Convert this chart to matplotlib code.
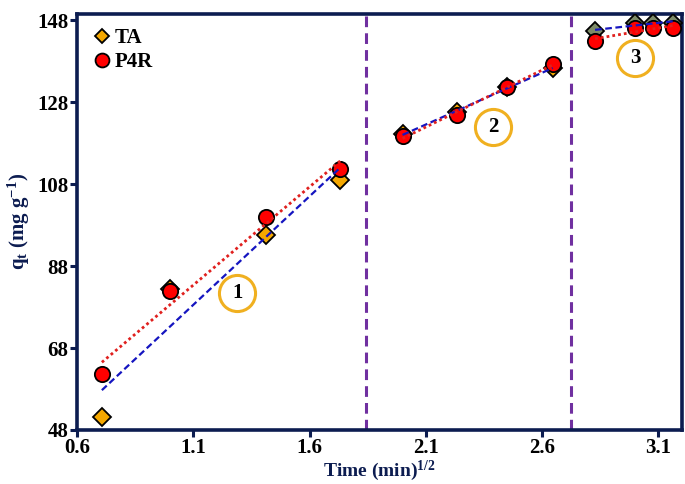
import numpy as np
import matplotlib
matplotlib.use("Agg")
import matplotlib.pyplot as plt

plt.rcParams['font.family'] = ['Liberation Serif', 'DejaVu Serif']
plt.rcParams['font.weight'] = 'bold'
plt.rcParams['mathtext.fontset'] = 'custom'
plt.rcParams['mathtext.rm'] = 'Liberation Serif:bold'
plt.rcParams['mathtext.bf'] = 'Liberation Serif:bold'
plt.rcParams['mathtext.it'] = 'Liberation Serif:bold'

# data, x = time^(1/2)
x1 = [0.707, 1.0, 1.414, 1.732]
ta1 = [51.1, 82.3, 95.6, 109.1]
p4r1 = [61.7, 81.8, 100.0, 111.6]

x2 = [2.0, 2.236, 2.449, 2.646]
ta2 = [120.2, 125.5, 131.6, 136.3]
p4r2 = [119.7, 124.8, 131.6, 137.4]

x3 = [2.828, 3.0, 3.077, 3.162]
ta3 = [145.3, 147.3, 147.3, 147.3]
p4r3 = [143.0, 146.0, 146.0, 146.1]

breaks = [1.842, 2.725]
region_labels = ['1', '2', '3']
label_pos = [(1.29, 81.4), (2.39, 121.9), (3.0, 138.7)]

navy = '#0c1c50'
orange = '#f5a800'
ta_cols = [orange, orange, '#7d8b68']

fig = plt.figure(figsize=(6.85, 4.84), dpi=100)
ax = fig.add_axes([0.1124, 0.1116, 0.8826, 0.8604])

segs = [(x1, ta1, p4r1), (x2, ta2, p4r2), (x3, ta3, p4r3)]
for i, (xs, ta, pr) in enumerate(segs):
    ax.plot(xs, ta, 'D', color=ta_cols[i], mec='black', mew=1.3, ms=9, ls='none', zorder=3)
    ax.plot(xs, pr, 'o', color='#ff0000', mec='black', mew=1.3, ms=11, ls='none', zorder=4)
    xs_a = np.array(xs)
    k, b = np.polyfit(xs_a, ta, 1)
    ax.plot(xs_a[[0, -1]], k * xs_a[[0, -1]] + b, color='#1515c0', ls=(0, (3, 1.6)), lw=1.6, zorder=5)
    k, b = np.polyfit(xs_a, pr, 1)
    ax.plot(xs_a[[0, -1]], k * xs_a[[0, -1]] + b, color='#e0201e', ls=(0, (1, 1.1)), lw=2.0, zorder=5)

for xb in breaks:
    ax.axvline(xb, color='#7030a0', ls=(0, (3.5, 2)), lw=2.2, zorder=2)

for lab, (lx, ly) in zip(region_labels, label_pos):
    ax.plot(lx, ly, 'o', ms=26, mfc='none', mec='#f0b020', mew=2.2, zorder=6)
    ax.text(lx, ly, lab, ha='center', va='center', fontsize=15, fontweight='bold', zorder=7)

# legend
ax.plot([], [], 'D', color=orange, mec='black', mew=1.3, ms=7, ls='none', label='TA')
ax.plot([], [], 'o', color='#ff0000', mec='black', mew=1.3, ms=10, ls='none', label='P4R')
h, l = ax.get_legend_handles_labels()
ax.legend(h, l, loc='upper left', frameon=False, handletextpad=0.1,
          handlelength=1.0, borderaxespad=0.3, labelspacing=0.2,
          prop={'weight': 'bold', 'size': 15})

ax.set_xlim(0.6, 3.2)
ax.set_ylim(48, 149.6)
ax.set_xticks([0.6, 1.1, 1.6, 2.1, 2.6, 3.1])
ax.set_yticks([48, 68, 88, 108, 128, 148])
ax.tick_params(direction='out', length=5, width=2.2, color=navy, labelsize=15, pad=1)
for s in ax.spines.values():
    s.set_color(navy)
    s.set_linewidth(2.6)

ax.set_xlabel('Time (min)$^{1/2}$', fontsize=14, color=navy, fontweight='bold', labelpad=0)
ax.set_ylabel('q$_{t}$ (mg g$^{-1}$)', fontsize=15, color=navy, fontweight='bold', labelpad=4)

fig.savefig('out.png', dpi=100)
